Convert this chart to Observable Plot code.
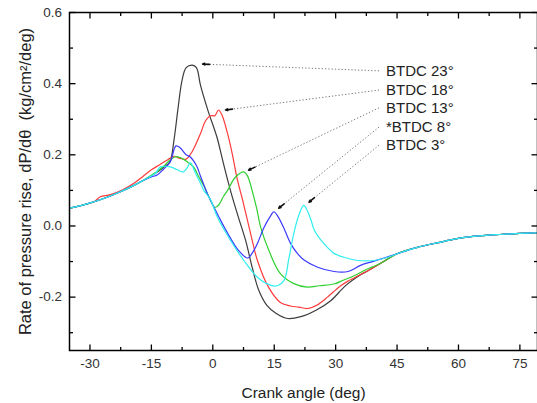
<!DOCTYPE html>
<html><head><meta charset="utf-8">
<script src="https://cdn.jsdelivr.net/npm/d3@7"></script>
<script src="https://cdn.jsdelivr.net/npm/@observablehq/plot@0.6"></script>
<style>
html,body{margin:0;padding:0;background:#fff;overflow:hidden;}
</style></head><body><div id="chart"></div>
<script>
// ---- data (crank angle [deg], dP/dθ [kg/cm²/deg]) ----
const seriesNames = ["BTDC 23°", "BTDC 18°", "BTDC 13°", "*BTDC 8°", "BTDC 3°"];
const seriesColors = ["#3c3c3c", "#ff3a3a", "#30d030", "#3a3aff", "#30eef0"];

const commonHead = [[-35,0.05],[-32,0.058],[-29,0.068],[-26,0.08],[-23,0.094],[-20,0.11],[-17,0.128]];
const commonTail = [[45,-0.078],[50,-0.06],[55,-0.047],[60,-0.035],[65,-0.028],[70,-0.024],[75,-0.021],[79.3,-0.019]];

const btdc23 = [[-14,0.148],[-12,0.165],[-10.5,0.18],[-9.5,0.24],[-8.5,0.33],[-7.5,0.41],[-6.5,0.445],[-5,0.452],[-4,0.445],[-3,0.395],[-1.2,0.325],[1,0.25],[2.5,0.18],[4.3,0.1],[6.1,0.03],[8,-0.04],[9.7,-0.12],[11.2,-0.18],[13.2,-0.223],[15.4,-0.245],[18.3,-0.26],[21.5,-0.255],[25.2,-0.237],[28.8,-0.21],[32.5,-0.167],[36,-0.138],[38,-0.125],[41,-0.105]];
const btdc18 = [[-27.5,0.082],[-25,0.088],[-22,0.102],[-19,0.122],[-17,0.14],[-15,0.158],[-13,0.172],[-11,0.186],[-9.5,0.196],[-8,0.19],[-6.5,0.188],[-5,0.21],[-3,0.26],[-1.8,0.295],[-0.6,0.31],[0.5,0.31],[1.4,0.326],[2.3,0.31],[3.6,0.26],[4.8,0.2],[6,0.13],[7.3,0.072],[9.2,-0.02],[10.9,-0.097],[13.6,-0.172],[16.5,-0.215],[19,-0.225],[21,-0.228],[23.1,-0.232],[25.5,-0.222],[28,-0.2],[31,-0.17],[33,-0.155],[36,-0.137],[38,-0.125],[41,-0.105]];
const btdc13 = [[-14,0.15],[-12,0.168],[-10.5,0.185],[-9,0.195],[-7.5,0.19],[-6,0.178],[-4.7,0.166],[-3.5,0.14],[-2.2,0.113],[-0.8,0.078],[0.5,0.052],[1.5,0.06],[2.7,0.085],[3.6,0.1],[5.5,0.137],[7.6,0.152],[8.5,0.14],[9.7,0.095],[10.7,0.05],[11.7,-0.004],[13.7,-0.069],[16.5,-0.134],[19.8,-0.162],[23.1,-0.172],[26,-0.168],[29.6,-0.163],[32,-0.152],[34.5,-0.14],[37,-0.125],[39,-0.115],[41,-0.105]];
const btdc8 = [[-15,0.138],[-13.6,0.143],[-12,0.16],[-10.4,0.18],[-9,0.225],[-8,0.22],[-6.5,0.2],[-5.5,0.194],[-4,0.17],[-3,0.14],[-1.3,0.09],[0.2,0.055],[1.5,0.025],[3.6,-0.02],[6.3,-0.069],[8.5,-0.09],[9.7,-0.075],[10.9,-0.049],[12.5,-0.004],[14.2,0.03],[14.9,0.04],[16,0.025],[17.5,-0.01],[19,-0.049],[20.5,-0.075],[22.2,-0.095],[25.6,-0.116],[29.6,-0.128],[33,-0.128],[36.2,-0.11],[39,-0.1],[41.8,-0.09]];
const btdc3 = [[-14,0.148],[-12.8,0.166],[-10.4,0.166],[-8.7,0.158],[-7.2,0.152],[-6.2,0.165],[-5.5,0.178],[-4.3,0.15],[-3,0.12],[-2.2,0.1],[-0.6,0.075],[1.1,0.025],[4.3,-0.04],[7.6,-0.097],[10.9,-0.144],[14.2,-0.167],[15.8,-0.168],[17.4,-0.153],[18.6,-0.09],[19.8,-0.02],[21,0.03],[22.2,0.058],[23,0.045],[24,0.016],[24.8,-0.012],[26.4,-0.04],[28,-0.06],[29.6,-0.077],[32,-0.088],[35.4,-0.097],[39.4,-0.097],[42.8,-0.088]];

// annotation: label positions and the peaks they point at
const labelAngle = 42.3;
const labelValues = [0.436, 0.382, 0.332, 0.278, 0.227];
const leaderStartAngle = 40.6;
const peakAngles = [-2.5, 3.1, 8.75, 16.1, 23.5];
const peakValues = [0.455, 0.326, 0.157, 0.05, 0.067];

// axes
const xDomain = [-35, 79.3];
const yDomain = [-0.35, 0.6];
const majorX = [-30, -15, 0, 15, 30, 45, 60, 75];
const minorX = [-22.5, -7.5, 7.5, 22.5, 37.5, 52.5, 67.5];
const majorY = [-0.2, 0, 0.2, 0.4, 0.6];
const minorY = [-0.3, -0.1, 0.1, 0.3, 0.5];
const xTitle = "Crank angle (deg)";
const yTitle = "Rate of pressure rise, dP/dθ  (kg/cm²/deg)";

// ---- layout ----
const W = 537, H = 403, mL = 69, mR = 0, mT = 12, mB = 53;
const degPerPx = (xDomain[1] - xDomain[0]) / (W - mL - mR);
const valPerPx = (yDomain[1] - yDomain[0]) / (H - mT - mB);
const font = "Liberation Sans, Arial, Helvetica, sans-serif";

const allSeries = [btdc23, btdc18, btdc13, btdc8, btdc3];
const seriesRows = allSeries.map((mid) => {
  const first = mid[0][0], last = mid[mid.length - 1][0];
  const pts = [...commonHead.filter(p => p[0] < first), ...mid, ...commonTail.filter(p => p[0] > last)];
  return pts.map(([a, v]) => ({angle: a, value: v}));
});

const ann = seriesNames.map((name, i) => {
  const dxp = (peakAngles[i] - leaderStartAngle) / degPerPx;
  const dyp = (peakValues[i] - labelValues[i]) / valPerPx;
  const len = Math.hypot(dxp, dyp);
  const back = 7;
  return {
    name,
    lx: labelAngle, ly: labelValues[i],
    sx: leaderStartAngle, sy: labelValues[i],
    px: peakAngles[i], py: peakValues[i],
    ax: peakAngles[i] - dxp / len * back * degPerPx,
    ay: peakValues[i] - dyp / len * back * valPerPx
  };
});

// inward ticks on all four sides
const tickSegs = [];
const addX = (vals, len) => vals.forEach(t => {
  tickSegs.push({x1: t, x2: t, y1: yDomain[0], y2: yDomain[0] + len * valPerPx});
  tickSegs.push({x1: t, x2: t, y1: yDomain[1], y2: yDomain[1] - len * valPerPx});
});
const addY = (vals, len) => vals.forEach(t => {
  tickSegs.push({y1: t, y2: t, x1: xDomain[0], x2: xDomain[0] + len * degPerPx});
  tickSegs.push({y1: t, y2: t, x1: xDomain[1], x2: xDomain[1] - len * degPerPx});
});
addX(majorX, 6); addX(minorX, 3.5); addY(majorY, 6); addY(minorY, 3.5);

const chart = Plot.plot({
  width: W, height: H,
  marginLeft: mL, marginRight: mR, marginTop: mT, marginBottom: mB,
  style: {fontFamily: font},
  x: {domain: xDomain, label: null},
  y: {domain: yDomain, label: null},
  marks: [
    ...seriesRows.map((r, i) => Plot.line(r, {x: "angle", y: "value", stroke: seriesColors[i], strokeWidth: 1.2, curve: "catmull-rom"})),
    // leader lines
    Plot.link(ann, {x1: "sx", y1: "sy", x2: "px", y2: "py", stroke: "#7a7a7a", strokeWidth: 1, strokeDasharray: "1.3,2"}),
    Plot.arrow(ann, {x1: "ax", y1: "ay", x2: "px", y2: "py", stroke: "#111", strokeWidth: 1.6, headLength: 6, headAngle: 45}),
    Plot.text(ann, {x: "lx", y: "ly", text: "name", textAnchor: "start", fontSize: 15, fill: "#222"}),
    // frame and ticks
    Plot.frame({stroke: "black", strokeWidth: 1.5}),
    Plot.link(tickSegs, {x1: "x1", y1: "y1", x2: "x2", y2: "y2", stroke: "black", strokeWidth: 1.3}),
    Plot.axisX(majorX, {anchor: "bottom", tickSize: 0, tickPadding: 7.5, tickFormat: d => String(d), fontSize: 13.5, fill: "#333", label: null}),
    Plot.axisY(majorY, {anchor: "left", tickSize: 0, tickPadding: 7.5, tickFormat: d => d.toFixed(1), fontSize: 13.5, fill: "#333", label: null}),
    // titles
    Plot.text([xTitle], {frameAnchor: "bottom", text: d => d, dy: 43, textAnchor: "middle", lineAnchor: "middle", fontSize: 15.5, fill: "#222"}),
    Plot.text([yTitle], {frameAnchor: "left", text: d => d, rotate: -90, dx: -44, textAnchor: "middle", lineAnchor: "middle", fontSize: 16.5, fill: "#222"})
  ]
});
document.getElementById("chart").appendChild(chart);
</script>
</body></html>
